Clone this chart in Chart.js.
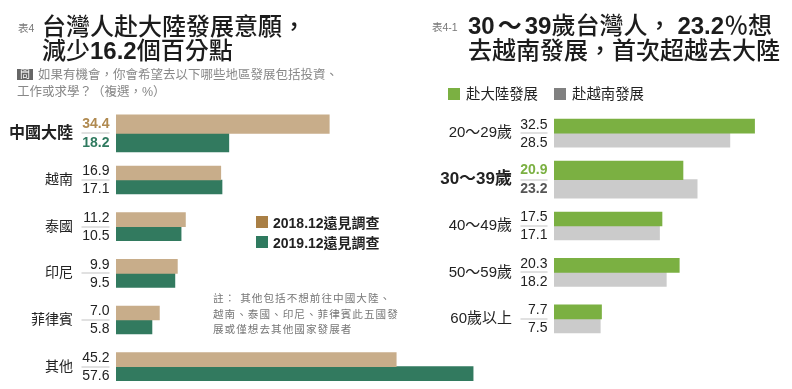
<!DOCTYPE html>
<html lang="zh-Hant"><head><meta charset="utf-8">
<script src="https://cdn.jsdelivr.net/npm/chart.js@4"></script>
<style>
html,body{margin:0;padding:0;background:#fff;overflow:hidden}
#wrap{position:relative;width:792px;height:389px;overflow:hidden;font-family:"Liberation Sans","Noto Sans CJK TC",sans-serif;color:#222}
#wrap div{position:absolute;white-space:nowrap}
canvas{position:absolute;top:0}
.t{font-size:24px;line-height:28px;color:#1c1c1c;font-weight:500}
.t b{font-weight:700}
.n{font-size:10.5px;color:#777;line-height:14px}
.q{font-size:12.5px;color:#888;line-height:16px}
.s{width:12px;height:12px}
.l{font-size:14.4px;line-height:18px;color:#222}
.o{font-size:10.6px;line-height:15.5px;color:#777;letter-spacing:1.02px}
</style></head><body><div id="wrap">
<canvas id="c1" width="488" height="450" style="left:0;width:488px;height:450px"></canvas>
<canvas id="c2" width="334" height="450" style="left:436px;width:334px;height:450px"></canvas>
<div class="n" style="left:18px;top:21px">表4</div>
<div class="t" style="left:42px;top:13px">台灣人赴大陸發展意願，</div>
<div class="t" style="left:42px;top:37px">減少<b>16.2</b>個百分點</div>
<div style="left:17px;top:69px;width:16px;height:11px;background:#666;color:#fff;font-size:10px;line-height:11px;text-align:center">問</div>
<div class="q" style="left:38px;top:67px">如果有機會，你會希望去以下哪些地區發展包括投資、</div>
<div class="q" style="left:17px;top:84px">工作或求學？（複選，%）</div>
<div class="s" style="left:256px;top:216px;background:#a97f45"></div>
<div class="l" style="left:273px;top:214px;font-weight:700;font-size:14px">2018.12遠見調查</div>
<div class="s" style="left:256px;top:236px;background:#2f7a5f"></div>
<div class="l" style="left:273px;top:234px;font-weight:700;font-size:14px">2019.12遠見調查</div>
<div class="o" style="left:213px;top:291px">註： 其他包括不想前往中國大陸、</div>
<div class="o" style="left:213px;top:306.5px">越南、泰國、印尼、菲律賓此五國發</div>
<div class="o" style="left:213px;top:322px">展或僅想去其他國家發展者</div>
<div class="n" style="left:432px;top:20px">表4-1</div>
<div class="t" style="left:468px;top:12px"><b>30<span style="margin:0 3px">～</span>39</b>歲台灣人<span style="margin-right:6px">，</span><b>23.2</b>％想</div>
<div class="t" style="left:468px;top:37px">去越南發展，首次超越去大陸</div>
<div class="s" style="left:448px;top:88px;background:#7bb042"></div>
<div class="l" style="left:466px;top:85px">赴大陸發展</div>
<div class="s" style="left:554px;top:88px;background:#808080"></div>
<div class="l" style="left:572px;top:85px">赴越南發展</div>
</div>
<script>
const regions = ["中國大陸","越南","泰國","印尼","菲律賓","其他"];
const survey2018 = [34.4,16.9,11.2,9.9,7.0,45.2];
const survey2019 = [18.2,17.1,10.5,9.5,5.8,57.6];
const ages = ["20～29歲","30～39歲","40～49歲","50～59歲","60歲以上"];
const toMainland = [32.5,20.9,17.5,20.3,7.7];
const toVietnam = [28.5,23.2,17.1,18.2,7.5];
const FONT = '"Liberation Sans","Noto Sans CJK TC",sans-serif';

function build(id, cats, a, b, colA, colB, opt) {
  const barTune = {
    id: "barTune",
    afterDatasetsUpdate(chart) {
      const c = chart.scales.y.getPixelForValue(opt.hi);
      const h = opt.hiBar;
      chart.getDatasetMeta(0).data[opt.hi].height = h;
      chart.getDatasetMeta(0).data[opt.hi].y = c - h / 2;
      chart.getDatasetMeta(1).data[opt.hi].height = h;
      chart.getDatasetMeta(1).data[opt.hi].y = c + h / 2;
    }
  };
  const values = {
    id: "values",
    afterDatasetsDraw(chart) {
      const g = chart.ctx, y = chart.scales.y, r = chart.chartArea.left - opt.gap;
      g.save();
      g.textAlign = "right";
      g.textBaseline = "middle";
      cats.forEach((_, i) => {
        const c = y.getPixelForValue(i), hi = i === opt.hi, d = hi ? opt.hiOff : 8.5;
        g.fillStyle = "#c4c4c4";
        g.fillRect(r - opt.rule, Math.round(c) - 0.5, opt.rule, 1);
        g.font = (hi ? "bold " : "") + "14px " + FONT;
        g.fillStyle = hi ? opt.hiA : "#222";
        g.fillText(a[i].toFixed(1), r, c - d);
        g.fillStyle = hi ? opt.hiB : "#222";
        g.fillText(b[i].toFixed(1), r, c + d + 1);
      });
      g.restore();
    }
  };
  return new Chart(document.getElementById(id), {
    type: "bar",
    data: { labels: cats, datasets: [
      { data: a, backgroundColor: colA, barThickness: 14, borderWidth: 0 },
      { data: b, backgroundColor: colB, barThickness: 14, borderWidth: 0 }
    ]},
    plugins: [barTune, values],
    options: {
      indexAxis: "y", responsive: false, animation: false,
      layout: { padding: { top: opt.top, bottom: opt.bottom, left: 0, right: 0 } },
      plugins: { legend: { display: false }, tooltip: { enabled: false } },
      scales: {
        x: { display: false, min: 0, max: opt.max },
        y: {
          grid: { display: false }, border: { display: false },
          afterFit(s) { s.width = opt.axis; },
          ticks: {
            autoSkip: false, padding: opt.pad,
            color: "#222",
            font: c => c.index === opt.hi
              ? { family: FONT, size: opt.hiFont, weight: "bold" }
              : { family: FONT, size: opt.font }
          }
        }
      }
    }
  });
}
build("c1", regions, survey2018, survey2019, "#c8ad8a", "#327a5f", {
  max: 60, axis: 116, pad: 35, top: 110, bottom: 60, gap: 6.5, rule: 28, font: 14,
  hi: 0, hiBar: 18.5, hiOff: 9, hiA: "#b08a50", hiB: "#2f7a5f", hiFont: 16
});
build("c2", ages, toMainland, toVietnam, "#7bb042", "#cbcbcb", {
  max: 35, axis: 118, pad: 34, top: 110, bottom: 108, gap: 6.5, rule: 27, font: 15,
  hi: 1, hiBar: 18.5, hiOff: 9, hiA: "#7bb042", hiB: "#555", hiFont: 17
});
</script></body></html>
